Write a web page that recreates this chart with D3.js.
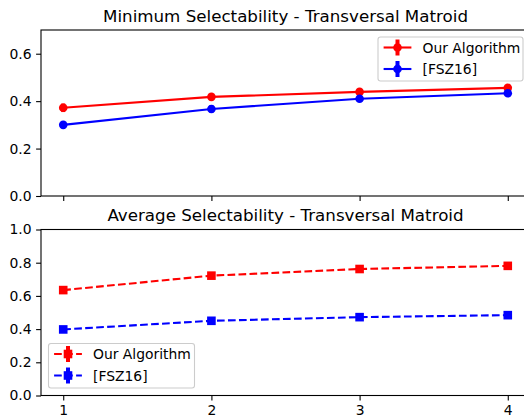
<!DOCTYPE html>
<html><head><meta charset="utf-8">
<script src="https://cdn.jsdelivr.net/npm/d3@7"></script>
<style>
html,body{margin:0;padding:0;background:#fff;}
svg{display:block;}
text{font-family:"DejaVu Sans",sans-serif;fill:#000;}
</style></head><body>
<svg id="c" width="524" height="416"></svg>
<script>
const xs = [1, 2, 3, 4];
const seriesNames = ["Our Algorithm", "[FSZ16]"];
const colors = ["#ff0000", "#0000ff"];
// Minimum selectability
const minOurs = [0.372, 0.418, 0.439, 0.456];
const minOursErr = [0.018, 0.01, 0.008, 0.008];
const minFSZ = [0.300, 0.367, 0.410, 0.433];
const minFSZErr = [0.01, 0.016, 0.008, 0.008];
// Average selectability
const avgOurs = [0.635, 0.722, 0.762, 0.781];
const avgOursErr = [0.005, 0.005, 0.005, 0.005];
const avgFSZ = [0.398, 0.450, 0.472, 0.484];
const avgFSZErr = [0.005, 0.005, 0.005, 0.005];
const titles = ["Minimum Selectability - Transversal Matroid", "Average Selectability - Transversal Matroid"];
const minTicks = [0.0, 0.2, 0.4, 0.6];
const avgTicks = [0.0, 0.2, 0.4, 0.6, 0.8, 1.0];

const svg = d3.select("#c");
const L = 41, R = 530;
const x = d3.scaleLinear().domain([0.85, 4.15]).range([L, R]);

function panel(cfg) {
  const y = d3.scaleLinear().domain(cfg.ydom).range([cfg.bottom, cfg.top]);
  const g = svg.append("g");
  // title
  g.append("text").attr("x", 285.5).attr("y", cfg.top - 8.5)
    .attr("text-anchor", "middle").style("font-size", "16.7px").text(cfg.title);
  // axes
  const ya = d3.axisLeft(y).tickValues(cfg.yticks).tickFormat(d3.format(".1f")).tickSize(4.9).tickPadding(4.5);
  const yg = g.append("g").attr("transform", `translate(${L},0)`).call(ya);
  const xa = d3.axisBottom(x).tickValues(xs).tickFormat(cfg.xlabels ? d3.format("d") : () => "").tickSize(4.9).tickPadding(4.5);
  const xg = g.append("g").attr("transform", `translate(0,${cfg.bottom})`).call(xa);
  [yg, xg].forEach(a => {
    a.select(".domain").remove();
    a.selectAll("line").attr("stroke", "#000").attr("stroke-width", 1.1);
    a.selectAll("text").style("font-size", "13.9px").attr("fill", "#000");
  });
  // spines
  g.append("rect").attr("x", L).attr("y", cfg.top).attr("width", R - L).attr("height", cfg.bottom - cfg.top)
    .attr("fill", "none").attr("stroke", "#000").attr("stroke-width", 1.1);

  cfg.series.forEach((s, i) => {
    const col = colors[i];
    const pts = xs.map((xv, k) => ({ x: xv, y: s.vals[k], e: s.errs[k] }));
    g.append("path").datum(pts)
      .attr("d", d3.line().x(d => x(d.x)).y(d => y(d.y)))
      .attr("fill", "none").attr("stroke", col).attr("stroke-width", 2.1)
      .attr("stroke-dasharray", cfg.dashed ? "7.7,3.3" : null);
    g.selectAll(null).data(pts).enter().append("line")
      .attr("x1", d => x(d.x)).attr("x2", d => x(d.x))
      .attr("y1", d => y(d.y - d.e)).attr("y2", d => y(d.y + d.e))
      .attr("stroke", col).attr("stroke-width", 4);
    if (cfg.marker === "circle") {
      g.selectAll(null).data(pts).enter().append("circle")
        .attr("cx", d => x(d.x)).attr("cy", d => y(d.y)).attr("r", 4.3).attr("fill", col);
    } else {
      g.selectAll(null).data(pts).enter().append("rect")
        .attr("x", d => x(d.x) - 4.3).attr("y", d => y(d.y) - 4.3)
        .attr("width", 8.6).attr("height", 8.6).attr("fill", col);
    }
  });

  // legend
  const lg = g.append("g");
  const lb = cfg.legend;
  lg.append("rect").attr("x", lb.x).attr("y", lb.y).attr("width", lb.w).attr("height", lb.h)
    .attr("rx", 2.5).attr("fill", "#fff").attr("fill-opacity", 0.8)
    .attr("stroke", "#cccccc").attr("stroke-width", 1.1);
  seriesNames.forEach((n, i) => {
    const col = colors[i];
    const cy = lb.y + 10.5 + i * 21.5;
    const hx0 = lb.x + 5.6, hx1 = hx0 + 27.8, hc = (hx0 + hx1) / 2;
    lg.append("line").attr("x1", hx0).attr("x2", hx1).attr("y1", cy).attr("y2", cy)
      .attr("stroke", col).attr("stroke-width", 2.1)
      .attr("stroke-dasharray", cfg.dashed ? "7.7,3.3" : null);
    lg.append("line").attr("x1", hc).attr("x2", hc).attr("y1", cy - 8).attr("y2", cy + 8)
      .attr("stroke", col).attr("stroke-width", 4);
    if (cfg.marker === "circle") lg.append("circle").attr("cx", hc).attr("cy", cy).attr("r", 4.3).attr("fill", col);
    else lg.append("rect").attr("x", hc - 4.3).attr("y", cy - 4.3).attr("width", 8.6).attr("height", 8.6).attr("fill", col);
    lg.append("text").attr("x", hx1 + 11.1).attr("y", cy + 5).style("font-size", "13.9px").text(n);
  });
}

panel({
  title: titles[0], top: 30, bottom: 196, ydom: [0, 0.7], yticks: minTicks, xlabels: false,
  marker: "circle", dashed: false,
  series: [{ vals: minOurs, errs: minOursErr }, { vals: minFSZ, errs: minFSZErr }],
  legend: { x: 378, y: 37, w: 145, h: 44 }
});
panel({
  title: titles[1], top: 229.5, bottom: 395.5, ydom: [0, 1.0], yticks: avgTicks, xlabels: true,
  marker: "square", dashed: true,
  series: [{ vals: avgOurs, errs: avgOursErr }, { vals: avgFSZ, errs: avgFSZErr }],
  legend: { x: 48.5, y: 343.5, w: 146, h: 44.5 }
});
</script>
</body></html>
